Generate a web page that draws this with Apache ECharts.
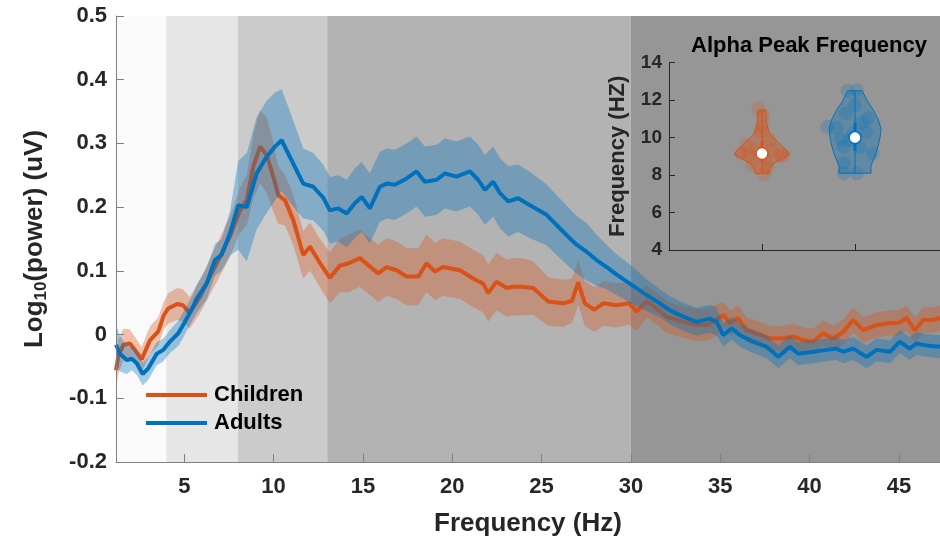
<!DOCTYPE html>
<html>
	<head>
		<meta charset="utf-8" />
		<title>EEG power spectrum</title>
	</head>
	<body style="margin:0; background:#fff;">
		<div id="chart" style="width:940px;height:541px;"></div>
	</body>
</html>
<script src="https://cdn.jsdelivr.net/npm/echarts@6.0.0/dist/echarts.min.js"></script>
<script>
	// rows: [frequency Hz, mean log10 power, error half width]
	var childRows = [
		[1.18,-0.056,0.028],[1.3,-0.035,0.027],[1.59,-0.016,0.025],[1.96,-0.014,0.022],[2.24,-0.024,0.02],
		[2.62,-0.039,0.02],[3.08,-0.009,0.022],[3.55,0.005,0.022],[3.85,0.03,0.022],[4.1,0.041,0.024],
		[4.6,0.048,0.025],[4.93,0.046,0.025],[5.3,0.034,0.025],[5.88,0.059,0.026],[6.44,0.091,0.028],
		[7.0,0.122,0.03],[7.56,0.154,0.032],[8.12,0.195,0.035],[8.5,0.211,0.04],[8.86,0.263,0.05],
		[9.24,0.295,0.057],[9.61,0.282,0.06],[9.98,0.248,0.055],[10.26,0.219,0.045],[10.64,0.211,0.04],
		[11.1,0.18,0.04],[11.66,0.125,0.037],[12.04,0.138,0.038],[12.6,0.112,0.038],[13.15,0.089,0.04],
		[13.7,0.108,0.042],[14.2,0.112,0.045],[14.83,0.12,0.045],[15.3,0.109,0.045],[15.86,0.096,0.045],
		[16.33,0.106,0.045],[16.89,0.101,0.045],[17.45,0.091,0.045],[18.1,0.091,0.045],[18.56,0.112,0.045],
		[19.03,0.099,0.045],[19.49,0.106,0.045],[20.43,0.101,0.045],[21.17,0.088,0.045],[21.73,0.08,0.045],
		[22.01,0.065,0.045],[22.48,0.083,0.045],[23.04,0.073,0.045],[23.41,0.075,0.045],[23.88,0.075,0.045],
		[24.53,0.073,0.042],[25.37,0.052,0.038],[26.21,0.049,0.037],[26.7,0.053,0.035],[27.05,0.082,0.035],
		[27.42,0.049,0.035],[27.95,0.039,0.035],[28.45,0.049,0.035],[29.2,0.046,0.035],[29.9,0.049,0.033],
		[30.32,0.036,0.03],[30.88,0.052,0.025],[31.44,0.041,0.025],[32.0,0.028,0.025],[32.93,0.02,0.025],
		[33.68,0.015,0.025],[34.24,0.015,0.025],[34.8,0.023,0.025],[35.17,0.031,0.02],[35.55,0.018,0.02],
		[36.0,0.026,0.02],[36.47,0.007,0.02],[37.03,0.002,0.02],[37.78,-0.006,0.02],[38.52,-0.006,0.02],
		[39.08,-0.003,0.02],[39.64,-0.009,0.02],[40.2,-0.011,0.02],[40.76,0.002,0.02],[41.32,-0.006,0.02],
		[41.88,0.004,0.02],[42.44,0.023,0.02],[43.0,0.007,0.02],[43.75,0.015,0.02],[44.5,0.018,0.02],
		[44.96,0.018,0.02],[45.43,0.026,0.02],[45.9,0.007,0.02],[46.36,0.023,0.02],[46.92,0.023,0.02],
		[47.3,0.026,0.02]
	];
	var adultRows = [
		[1.18,-0.016,0.032],[1.4,-0.03,0.028],[1.78,-0.04,0.022],[2.06,-0.038,0.018],[2.34,-0.045,0.018],
		[2.67,-0.062,0.018],[2.99,-0.053,0.018],[3.46,-0.03,0.018],[3.83,-0.024,0.018],[4.2,-0.011,0.018],
		[4.67,0.002,0.02],[5.04,0.02,0.02],[5.5,0.044,0.02],[5.69,0.056,0.022],[6.25,0.08,0.025],
		[6.72,0.117,0.025],[7.09,0.125,0.025],[7.56,0.159,0.035],[8.02,0.203,0.07],[8.5,0.2,0.085],
		[9.05,0.253,0.088],[9.61,0.279,0.088],[10.08,0.295,0.085],[10.45,0.305,0.08],[11.0,0.274,0.07],
		[11.66,0.237,0.055],[12.22,0.232,0.053],[12.78,0.215,0.052],[13.15,0.195,0.052],[13.62,0.198,0.052],
		[14.09,0.19,0.053],[14.55,0.206,0.055],[14.93,0.216,0.055],[15.39,0.198,0.055],[15.95,0.232,0.055],
		[16.33,0.237,0.055],[16.79,0.235,0.055],[17.45,0.245,0.055],[18.0,0.256,0.055],[18.47,0.24,0.055],
		[19.13,0.243,0.055],[19.59,0.253,0.055],[20.24,0.248,0.055],[20.99,0.256,0.055],[21.45,0.243,0.055],
		[21.83,0.227,0.055],[22.29,0.24,0.055],[22.67,0.222,0.055],[23.13,0.209,0.055],[23.69,0.214,0.053],
		[24.35,0.203,0.052],[25.28,0.188,0.048],[25.84,0.172,0.047],[26.4,0.156,0.046],[26.96,0.141,0.045],
		[27.52,0.13,0.045],[28.08,0.117,0.04],[28.64,0.106,0.035],[29.2,0.094,0.032],[29.94,0.08,0.03],
		[30.88,0.062,0.025],[31.62,0.049,0.022],[32.18,0.038,0.022],[32.93,0.028,0.022],[33.68,0.02,0.022],
		[34.42,0.025,0.022],[34.8,0.02,0.022],[35.17,-0.001,0.018],[35.64,0.01,0.018],[36.1,-0.001,0.018],
		[36.84,-0.011,0.018],[37.6,-0.019,0.018],[38.25,-0.035,0.018],[38.9,-0.019,0.018],[39.36,-0.03,0.018],
		[40.2,-0.027,0.018],[40.95,-0.024,0.018],[41.5,-0.022,0.018],[41.88,-0.027,0.018],[42.44,-0.022,0.018],
		[43.19,-0.035,0.018],[43.75,-0.024,0.018],[44.5,-0.027,0.018],[45.05,-0.011,0.018],[45.6,-0.022,0.018],
		[45.97,-0.014,0.018],[46.53,-0.017,0.018],[47.3,-0.019,0.018]
	];

	// frequency bands (delta, theta, alpha, beta, gamma)
	var bandEdges = [1.18, 4, 8, 13, 30, 47.3];
	var bandColors = ['#fafafa', '#e6e6e6', '#cbcbcb', '#b3b3b3', '#969696'];
	var xTicks = [5, 10, 15, 20, 25, 30, 35, 40, 45];

	// inset: alpha peak frequency violins
	var childViolinY = [8.08, 8.3, 8.6, 8.9, 9.1, 9.3, 9.7, 10.2, 10.6, 11.0, 11.47];
	var childViolinW = [0.075, 0.081, 0.118, 0.226, 0.301, 0.269, 0.183, 0.086, 0.054, 0.048, 0.043];
	var adultViolinY = [8.1, 8.5, 9.0, 9.5, 10.0, 10.5, 11.0, 11.5, 11.9, 12.2, 12.5];
	var adultViolinW = [0.172, 0.172, 0.215, 0.247, 0.269, 0.28, 0.247, 0.194, 0.14, 0.108, 0.075];
	// [min, q1, median, q3, max]
	var childBox = [8.08, 8.75, 9.15, 9.85, 11.47];
	var adultBox = [8.1, 9.3, 10.0, 10.8, 12.5];
	var childDotX = [-0.04, 0.01, -0.02, -0.17, -0.07, 0.2, 0.02, -0.1, 0.08, -0.14, 0.04, 0.11, 0.22, -0.22, 0.0, 0.06];
	var childDotY = [11.55, 11.2, 10.35, 9.6, 9.34, 9.07, 8.05, 8.54, 9.87, 9.07, 8.8, 9.34, 9.0, 9.15, 10.6, 8.4];
	var adultDotX = [-0.08, 0.02, 0.14, -0.3, -0.2, -0.12, -0.12, 0.19, -0.12, 0.02, -0.05, 0.07, 0.0, -0.1, 0.12, -0.15, 0.05, -0.02];
	var adultDotY = [12.5, 12.54, 11.03, 10.58, 10.5, 9.52, 8.63, 9.16, 8.09, 8.09, 9.87, 10.77, 11.74, 11.3, 10.3, 9.9, 9.5, 10.2];

	var ORANGE = '#D95319';
	var BLUE = '#0072BD';
	var FONT = '"Liberation Sans", Arial, Helvetica, sans-serif';
	var INK = '#262626';

	function mean(rows) {
		return rows.map(function (r) { return [r[0], r[1]]; });
	}
	function dots(cx, xs, ys) {
		return xs.map(function (d, i) { return [cx + d, ys[i]]; });
	}

	// shaded error band: one polygon over all rows, drawn on the first item
	function errorBand(rows, fill) {
		return function (params, api) {
			if (params.dataIndex !== 0) return null;
			var pts = [];
			for (var i = 0; i < rows.length; i++) pts.push(api.coord([rows[i][0], rows[i][1] + rows[i][2]]));
			for (var j = rows.length - 1; j >= 0; j--) pts.push(api.coord([rows[j][0], rows[j][1] - rows[j][2]]));
			return { type: 'polygon', shape: { points: pts }, style: { fill: fill } };
		};
	}

	function violin(outY, outW, color, fill) {
		return function (params, api) {
			var cx = api.value(0);
			var pts = [];
			for (var i = 0; i < outY.length; i++) pts.push(api.coord([cx + outW[i], outY[i]]));
			for (var j = outY.length - 1; j >= 0; j--) pts.push(api.coord([cx - outW[j], outY[j]]));
			return {
				type: 'polygon',
				shape: { points: pts },
				style: { fill: fill, stroke: color, lineWidth: 1 }
			};
		};
	}

	var bandAreas = [];
	for (var b = 0; b < bandColors.length; b++) {
		bandAreas.push([{ xAxis: bandEdges[b], itemStyle: { color: bandColors[b] } }, { xAxis: bandEdges[b + 1] }]);
	}

	var tickLabel = { fontSize: 22, fontWeight: 'bold', color: INK, fontFamily: FONT };

	var myChart = echarts.init(document.getElementById('chart'));

	var options = {
		animation: false,
		backgroundColor: '#ffffff',
		title: {
			text: 'Alpha Peak Frequency',
			left: 691,
			top: 35,
			padding: 0,
			textStyle: { fontSize: 22, fontWeight: 'bold', color: '#000', fontFamily: FONT }
		},
		legend: {
			data: ['Children', 'Adults'],
			orient: 'vertical',
			left: 146,
			top: 384,
			padding: 0,
			itemWidth: 61,
			itemHeight: 4,
			itemGap: 6,
			icon: 'rect',
			selectedMode: false,
			textStyle: { fontSize: 22, fontWeight: 'bold', color: '#000', fontFamily: FONT, lineHeight: 22, padding: [0, 0, 0, 2] }
		},
		grid: [
			{ left: 116, top: 16, right: 0, bottom: 79, outerBoundsMode: 'none' },
			{ left: 669, top: 62.7, width: 271, height: 187.3, outerBoundsMode: 'none' }
		],
		xAxis: [
			{
				type: 'value', gridIndex: 0, min: 1.18, max: 47.3, z: 10,
				axisLine: { show: true, onZero: false, lineStyle: { color: '#808080' } },
				axisTick: { show: true, inside: true, length: 8, customValues: xTicks, lineStyle: { color: '#808080' } },
				axisLabel: Object.assign({ customValues: xTicks, margin: 14 }, tickLabel),
				splitLine: { show: false },
				name: 'Frequency (Hz)',
				nameLocation: 'middle',
				nameGap: 49,
				nameTextStyle: { fontSize: 26, fontWeight: 'bold', color: INK, fontFamily: FONT }
			},
			{
				type: 'value', gridIndex: 1, min: 0, max: 2.914, z: 10,
				axisLine: { show: true, onZero: false, lineStyle: { color: INK } },
				axisTick: { show: true, inside: true, length: 6, customValues: [1, 2], lineStyle: { color: INK } },
				axisLabel: { show: false },
				splitLine: { show: false }
			}
		],
		yAxis: [
			{
				type: 'value', gridIndex: 0, min: -0.2, max: 0.5, interval: 0.1, z: 10,
				axisLine: { show: true, onZero: false, lineStyle: { color: '#808080' } },
				axisTick: { show: true, inside: true, length: 8, lineStyle: { color: '#808080' } },
				axisLabel: Object.assign({ margin: 9 }, tickLabel),
				splitLine: { show: false },
				name: '{m|Log}{s|10}{m|(power) (uV)}',
				nameLocation: 'middle',
				nameRotate: 90,
				nameGap: 66,
				nameTextStyle: {
					color: INK,
					rich: {
						m: { fontSize: 26, fontWeight: 'bold', color: INK, fontFamily: FONT, lineHeight: 30 },
						s: { fontSize: 17, fontWeight: 'bold', color: INK, fontFamily: FONT, lineHeight: 17, verticalAlign: 'bottom' }
					}
				}
			},
			{
				type: 'value', gridIndex: 1, min: 4, max: 14, interval: 2, z: 10,
				axisLine: { show: true, onZero: false, lineStyle: { color: INK } },
				axisTick: { show: true, inside: true, length: 6, lineStyle: { color: INK } },
				axisLabel: { margin: 7, fontSize: 19, fontWeight: 'bold', color: INK, fontFamily: FONT },
				splitLine: { show: false },
				name: 'Frequency (HZ)',
				nameLocation: 'middle',
				nameRotate: 90,
				nameGap: 40,
				nameTextStyle: { fontSize: 22, fontWeight: 'bold', color: INK, fontFamily: FONT }
			}
		],
		series: [
			{
				name: 'bands', type: 'line', xAxisIndex: 0, yAxisIndex: 0, z: 1,
				data: [[1.18, -0.2]], showSymbol: false, lineStyle: { width: 0 }, silent: true,
				markArea: { silent: true, label: { show: false }, data: bandAreas }
			},
			{
				name: 'childBand', type: 'custom', xAxisIndex: 0, yAxisIndex: 0, z: 2, silent: true, clip: true,
				renderItem: errorBand(childRows, 'rgba(217,83,25,0.35)'),
				data: mean(childRows)
			},
			{
				name: 'Children', type: 'line', z: 3, data: mean(childRows), showSymbol: false,
				itemStyle: { color: ORANGE }, lineStyle: { color: ORANGE, width: 4 }
			},
			{
				name: 'adultBand', type: 'custom', xAxisIndex: 0, yAxisIndex: 0, z: 4, silent: true, clip: true,
				renderItem: errorBand(adultRows, 'rgba(0,114,189,0.35)'),
				data: mean(adultRows)
			},
			{
				name: 'Adults', type: 'line', z: 5, data: mean(adultRows), showSymbol: false,
				itemStyle: { color: BLUE }, lineStyle: { color: BLUE, width: 4 }
			},

			// inset
			{
				type: 'custom', xAxisIndex: 1, yAxisIndex: 1, z: 6, silent: true,
				renderItem: violin(childViolinY, childViolinW, ORANGE, 'rgba(217,83,25,0.35)'),
				data: [[1]]
			},
			{
				type: 'custom', xAxisIndex: 1, yAxisIndex: 1, z: 6, silent: true,
				renderItem: violin(adultViolinY, adultViolinW, BLUE, 'rgba(0,114,189,0.35)'),
				data: [[2]]
			},
			{
				type: 'scatter', xAxisIndex: 1, yAxisIndex: 1, z: 7, silent: true, symbolSize: 14,
				itemStyle: { color: ORANGE, opacity: 0.22 }, data: dots(1, childDotX, childDotY)
			},
			{
				type: 'scatter', xAxisIndex: 1, yAxisIndex: 1, z: 7, silent: true, symbolSize: 14,
				itemStyle: { color: BLUE, opacity: 0.22 }, data: dots(2, adultDotX, adultDotY)
			},
			{
				type: 'line', xAxisIndex: 1, yAxisIndex: 1, z: 8, silent: true, showSymbol: false,
				lineStyle: { color: ORANGE, width: 1 }, data: [[1, childBox[0]], [1, childBox[4]]]
			},
			{
				type: 'line', xAxisIndex: 1, yAxisIndex: 1, z: 8, silent: true, showSymbol: false,
				lineStyle: { color: ORANGE, width: 3 }, data: [[1, childBox[1]], [1, childBox[3]]]
			},
			{
				type: 'line', xAxisIndex: 1, yAxisIndex: 1, z: 8, silent: true, showSymbol: false,
				lineStyle: { color: BLUE, width: 1 }, data: [[2, adultBox[0]], [2, adultBox[4]]]
			},
			{
				type: 'line', xAxisIndex: 1, yAxisIndex: 1, z: 8, silent: true, showSymbol: false,
				lineStyle: { color: BLUE, width: 3 }, data: [[2, adultBox[1]], [2, adultBox[3]]]
			},
			{
				type: 'scatter', xAxisIndex: 1, yAxisIndex: 1, z: 9, silent: true, symbolSize: 12,
				itemStyle: { color: '#ffffff', borderColor: ORANGE, borderWidth: 1.5, opacity: 1 }, data: [[1, childBox[2]]]
			},
			{
				type: 'scatter', xAxisIndex: 1, yAxisIndex: 1, z: 9, silent: true, symbolSize: 12,
				itemStyle: { color: '#ffffff', borderColor: BLUE, borderWidth: 1.5, opacity: 1 }, data: [[2, adultBox[2]]]
			}
		]
	};

	myChart.setOption(options);
</script>
